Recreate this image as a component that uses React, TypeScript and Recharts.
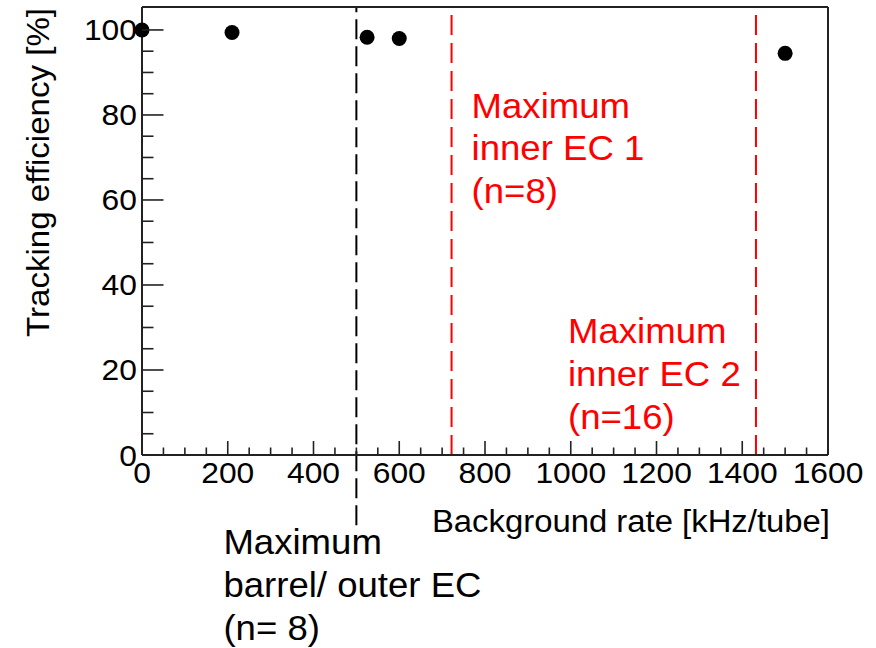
import React from 'react';
import { ScatterChart, Scatter, XAxis, YAxis, ReferenceLine } from 'recharts';

// measured points
const rates = [0, 210, 525, 600, 1500];
const efficiencies = [100, 99.4, 98.3, 98.0, 94.5];

const xTicks = [
    0, 50, 100, 150, 200, 250, 300, 350, 400, 450, 500, 550, 600, 650, 700, 750, 800,
    850, 900, 950, 1000, 1050, 1100, 1150, 1200, 1250, 1300, 1350, 1400, 1450, 1500, 1550, 1600,
];
const xLabels = [0, 200, 400, 600, 800, 1000, 1200, 1400, 1600];
const yTicks = [0, 5, 10, 15, 20, 25, 30, 35, 40, 45, 50, 55, 60, 65, 70, 75, 80, 85, 90, 95, 100];
const yLabels = [0, 20, 40, 60, 80, 100];

// limits marked on the plot
const barrelLimit = 500;
const innerEc1Limit = 722;
const innerEc2Limit = 1432;

const barrelNote = ['Maximum', 'barrel/ outer EC', '(n= 8)'];
const innerEc1Note = ['Maximum', 'inner EC 1', '(n=8)'];
const innerEc2Note = ['Maximum', 'inner EC 2', '(n=16)'];

const points = rates.map((rate, i) => ({ rate, eff: efficiencies[i] }));

const FONT = '"Liberation Sans", Arial, Helvetica, sans-serif';
const FRAME = '#222';
const RED = '#ff0000';
const Y_MAX = 105.4;
const Y_LOW = -16.5; // where the black line stops below the frame

const BottomTick = (props: any) => {
    const { x, y, payload } = props;
    const major = xLabels.includes(payload.value);
    return (
        <g>
            <line x1={x} y1={y} x2={x} y2={y - (major ? 14 : 7.5)} stroke={FRAME} strokeWidth={1.6} />
            {major && (
                <text
                    transform={`translate(${x},${y + 28}) scale(1.06,1)`}
                    textAnchor="middle"
                    fontSize={30}
                    fontFamily={FONT}
                    fill="#000"
                >
                    {payload.value}
                </text>
            )}
        </g>
    );
};

const TopTick = (props: any) => {
    const { x, y, payload } = props;
    const major = xLabels.includes(payload.value);
    return <line x1={x} y1={y} x2={x} y2={y + (major ? 14 : 7.5)} stroke={FRAME} strokeWidth={1.6} />;
};

const LeftTick = (props: any) => {
    const { x, y, payload } = props;
    const major = yLabels.includes(payload.value);
    return (
        <g>
            <line x1={x} y1={y} x2={x + (major ? 21.5 : 11.5)} y2={y} stroke={FRAME} strokeWidth={1.6} />
            {major && (
                <text
                    transform={`translate(${x - 5},${y + 10.5}) scale(1.06,1)`}
                    textAnchor="end"
                    fontSize={30}
                    fontFamily={FONT}
                    fill="#000"
                >
                    {payload.value}
                </text>
            )}
        </g>
    );
};

const RightTick = (props: any) => {
    const { x, y, payload } = props;
    const major = yLabels.includes(payload.value);
    return <line x1={x} y1={y} x2={x - (major ? 21.5 : 11.5)} y2={y} stroke={FRAME} strokeWidth={1.6} />;
};

const Note = ({ viewBox, lines, dx, dy, color }: any) => {
    if (!viewBox) return null;
    return (
        <text
            transform={`translate(${viewBox.x + dx},${viewBox.y + dy}) scale(1.06,1)`}
            fill={color}
            fontSize={34.5}
            fontFamily={FONT}
        >
            {lines.map((line: string, i: number) => (
                <tspan key={i} x={0} dy={i === 0 ? 0 : 43}>
                    {line}
                </tspan>
            ))}
        </text>
    );
};

const XTitle = ({ viewBox }: any) =>
    viewBox ? (
        <text
            transform={`translate(${viewBox.x + viewBox.width + 2},${viewBox.y + 77}) scale(1.06,1)`}
            textAnchor="end"
            fontSize={31}
            fontFamily={FONT}
            fill="#000"
        >
            Background rate [kHz/tube]
        </text>
    ) : null;

const YTitle = ({ viewBox }: any) =>
    viewBox ? (
        <text
            transform={`translate(${viewBox.x + viewBox.width - 93.5},${viewBox.y + 1}) rotate(-90) scale(1.05,1)`}
            textAnchor="end"
            fontSize={31.5}
            fontFamily={FONT}
            fill="#000"
        >
            Tracking efficiency [%]
        </text>
    ) : null;

const Dot = (props: any) => <circle cx={props.cx} cy={props.cy} r={7.5} fill="#000" />;

export default function App() {
    return (
        <div style={{ position: 'absolute', left: 0, top: 0, background: '#fff' }}>
            <ScatterChart width={876} height={648} margin={{ top: 6, right: 47, bottom: 192, left: 141 }}>
                <XAxis
                    type="number"
                    dataKey="rate"
                    domain={[0, 1600]}
                    ticks={xTicks}
                    interval={0}
                    height={1}
                    tickSize={0}
                    tickMargin={0}
                    tick={<BottomTick />}
                    tickLine={false}
                    axisLine={{ stroke: FRAME, strokeWidth: 2 }}
                    label={<XTitle />}
                />
                <XAxis
                    xAxisId="top"
                    orientation="top"
                    type="number"
                    domain={[0, 1600]}
                    ticks={xTicks}
                    interval={0}
                    height={1}
                    tickSize={0}
                    tickMargin={0}
                    tick={<TopTick />}
                    tickLine={false}
                    axisLine={{ stroke: FRAME, strokeWidth: 2 }}
                />
                <YAxis
                    type="number"
                    dataKey="eff"
                    domain={[0, Y_MAX]}
                    ticks={yTicks}
                    interval={0}
                    width={1}
                    tickSize={0}
                    tickMargin={0}
                    tick={<LeftTick />}
                    tickLine={false}
                    axisLine={{ stroke: FRAME, strokeWidth: 2 }}
                    label={<YTitle />}
                />
                <YAxis
                    yAxisId="right"
                    orientation="right"
                    type="number"
                    domain={[0, Y_MAX]}
                    ticks={yTicks}
                    interval={0}
                    width={1}
                    tickSize={0}
                    tickMargin={0}
                    tick={<RightTick />}
                    tickLine={false}
                    axisLine={{ stroke: FRAME, strokeWidth: 2 }}
                />
                <ReferenceLine
                    segment={[
                        { x: barrelLimit, y: Y_LOW },
                        { x: barrelLimit, y: Y_MAX },
                    ]}
                    ifOverflow="visible"
                    stroke="#000"
                    strokeWidth={2}
                    strokeDasharray="20 7"
                    label={<Note lines={barrelNote} dx={-133} dy={547} color="#000" />}
                />
                <ReferenceLine
                    segment={[
                        { x: innerEc1Limit, y: 0 },
                        { x: innerEc1Limit, y: Y_MAX },
                    ]}
                    ifOverflow="visible"
                    stroke={RED}
                    strokeWidth={2}
                    strokeDasharray="20 8"
                    label={<Note lines={innerEc1Note} dx={20} dy={110.5} color={RED} />}
                />
                <ReferenceLine
                    segment={[
                        { x: innerEc2Limit, y: 0 },
                        { x: innerEc2Limit, y: Y_MAX },
                    ]}
                    ifOverflow="visible"
                    stroke={RED}
                    strokeWidth={2}
                    strokeDasharray="20 8"
                    label={<Note lines={innerEc2Note} dx={-188} dy={335.7} color={RED} />}
                />
                <Scatter data={points} fill="#000" shape={<Dot />} isAnimationActive={false} />
            </ScatterChart>
        </div>
    );
}
